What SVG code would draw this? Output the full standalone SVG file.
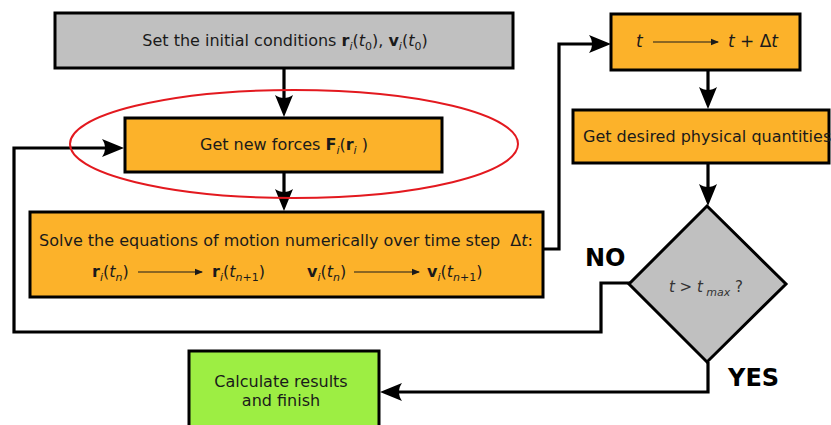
<svg xmlns="http://www.w3.org/2000/svg" width="831" height="425" viewBox="0 0 831 425">
<style>
.box{stroke:#000;stroke-width:3}
.or{fill:#fcb22a}
.gr{fill:#c0c0c0}
.gn{fill:#9dee43}
.t{font-family:"DejaVu Sans","Liberation Sans",sans-serif;font-size:16px;fill:#1a1a1a}
.b{font-weight:bold}
.it{font-style:italic}
.s{font-style:italic;font-size:11px}
.sn{font-size:11px}
.lbl{font-family:"DejaVu Sans","Liberation Sans",sans-serif;font-size:24px;font-weight:bold;fill:#000}
.con{fill:none;stroke:#000;stroke-width:3.2;stroke-linejoin:miter}
.thin{fill:none;stroke:#1a1a1a;stroke-width:1.2}
</style>
<defs>
<marker id="ah" markerUnits="userSpaceOnUse" orient="auto" viewBox="-20 -20 40 40" markerWidth="40" markerHeight="40" refX="0" refY="0" overflow="visible">
<path d="M12,0 L-10,-9 C-6,-3.5 -6,3.5 -10,9 Z" fill="#000"/>
</marker>
<marker id="sa" markerUnits="userSpaceOnUse" orient="auto" viewBox="-10 -10 20 20" markerWidth="20" markerHeight="20" refX="0" refY="0" overflow="visible">
<path d="M1,0 L-7,-3.2 L-7,3.2 Z" fill="#1a1a1a"/>
</marker>
</defs>

<g id="connectors">
<path class="con" d="M284,68 V105" marker-end="url(#ah)"/>
<path class="con" d="M284,172 V199" marker-end="url(#ah)"/>
<path class="con" d="M543,249 H559 V44 H599" marker-end="url(#ah)"/>
<path class="con" d="M708,70 V97" marker-end="url(#ah)"/>
<path class="con" d="M708,163 V194" marker-end="url(#ah)"/>
<path class="con" d="M630,283 H601 V332 H14 V148 H112" marker-end="url(#ah)"/>
<path class="con" d="M708,362 V392 H392" marker-end="url(#ah)"/>
</g>

<g id="init">
<rect class="box gr" x="55" y="13" width="458" height="55"/>
<text class="t" x="285" y="46" text-anchor="middle">Set the initial conditions <tspan class="b">r</tspan><tspan class="s" dy="4">i</tspan><tspan dy="-4">(</tspan><tspan class="it">t</tspan><tspan class="sn" dy="4">0</tspan><tspan dy="-4">), </tspan><tspan class="b">v</tspan><tspan class="s" dy="4">i</tspan><tspan dy="-4">(</tspan><tspan class="it">t</tspan><tspan class="sn" dy="4">0</tspan><tspan dy="-4">)</tspan></text>
</g>

<g id="forces">
<rect class="box or" x="125" y="118" width="317" height="54"/>
<text class="t" x="284" y="150" text-anchor="middle">Get new forces <tspan class="b">F</tspan><tspan class="s" dy="4">i</tspan><tspan dy="-4">(</tspan><tspan class="b">r</tspan><tspan class="s" dy="4">i</tspan><tspan dy="-4"> )</tspan></text>
</g>

<ellipse id="highlight" cx="294" cy="144" rx="224" ry="54" fill="none" stroke="#e3191f" stroke-width="2"/>

<g id="solve">
<rect class="box or" x="30" y="212" width="513" height="85"/>
<text class="t" x="286" y="246" text-anchor="middle">Solve the equations of motion numerically over time step &#160;Δ<tspan class="it">t</tspan>:</text>
<text class="t" x="92" y="277"><tspan class="b">r</tspan><tspan class="s" dy="4">i</tspan><tspan dy="-4">(</tspan><tspan class="it">t</tspan><tspan class="s" dy="4">n</tspan><tspan dy="-4">)</tspan></text>
<line class="thin" x1="138" y1="272" x2="202" y2="272" marker-end="url(#sa)"/>
<text class="t" x="212" y="277"><tspan class="b">r</tspan><tspan class="s" dy="4">i</tspan><tspan dy="-4">(</tspan><tspan class="it">t</tspan><tspan class="s" dy="4">n</tspan><tspan class="sn">+1</tspan><tspan dy="-4">)</tspan></text>
<text class="t" x="307" y="277"><tspan class="b">v</tspan><tspan class="s" dy="4">i</tspan><tspan dy="-4">(</tspan><tspan class="it">t</tspan><tspan class="s" dy="4">n</tspan><tspan dy="-4">)</tspan></text>
<line class="thin" x1="354" y1="272" x2="419" y2="272" marker-end="url(#sa)"/>
<text class="t" x="427" y="277"><tspan class="b">v</tspan><tspan class="s" dy="4">i</tspan><tspan dy="-4">(</tspan><tspan class="it">t</tspan><tspan class="s" dy="4">n</tspan><tspan class="sn">+1</tspan><tspan dy="-4">)</tspan></text>
</g>

<g id="timestep">
<rect class="box or" x="611" y="14" width="189" height="56"/>
<text class="t it" x="636" y="47" style="font-size:17px">t</text>
<line class="thin" x1="653" y1="42" x2="718" y2="42" marker-end="url(#sa)"/>
<text class="t" x="728" y="47" style="font-size:17px"><tspan class="it">t</tspan> + Δ<tspan class="it">t</tspan></text>
</g>

<g id="quantities">
<rect class="box or" x="573" y="110" width="256" height="53"/>
<text class="t" x="583" y="142">Get desired physical quantities</text>
</g>

<g id="decision">
<polygon class="box gr" points="707,206 786,284 707,362 629,284"/>
<text class="t" x="706" y="292" text-anchor="middle" style="font-size:15px;fill:#333"><tspan class="it">t</tspan> &gt; <tspan class="it">t</tspan><tspan class="s" dy="4"> max</tspan><tspan dy="-4"> ?</tspan></text>
</g>

<g id="finish">
<rect class="box gn" x="189" y="351" width="190" height="80"/>
<text class="t" x="281" y="387" text-anchor="middle">Calculate results</text>
<text class="t" x="281" y="406" text-anchor="middle">and finish</text>
</g>

<text class="lbl" x="585" y="266">NO</text>
<text class="lbl" x="728" y="386">YES</text>
</svg>
